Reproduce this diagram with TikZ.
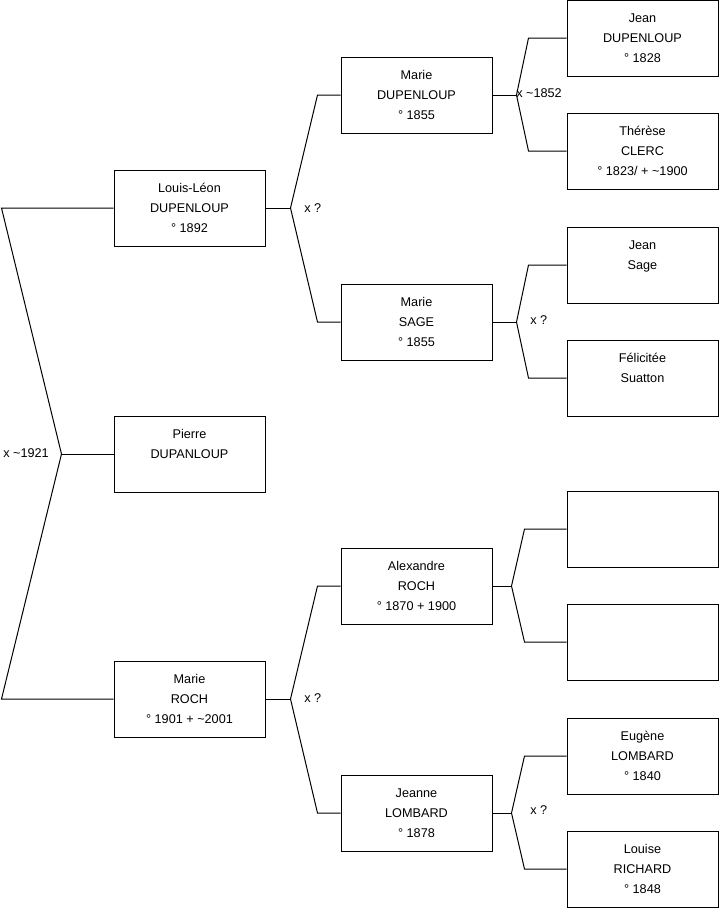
\documentclass[tikz,border=0pt]{standalone}
\usepackage{fontspec}
\setmainfont{Liberation Sans}
\usetikzlibrary{positioning,calc}

\begin{document}
\begin{tikzpicture}[
      x=0.75pt, y=-0.75pt,
      person/.style={draw, line width=0.75pt, minimum width=113.25pt, minimum height=57pt,
        align=center, inner sep=0pt, font=\fontsize{9.5}{15}\selectfont},
      link/.style={line width=0.75pt},
      union/.style={anchor=west, inner sep=0pt, font=\fontsize{9.5}{11}\selectfont}
    ]
      \useasboundingbox (0,0) rectangle (719,908);
      % generation 1
      \node[person] (louis) at (189.5,208) {Louis-Léon\\DUPENLOUP\\° 1892};
      \node[person] (pierre) at (189.5,454) {Pierre\\DUPANLOUP\\ };
      \node[person] (mroch) at (189.5,699) {Marie\\ROCH\\° 1901 + \textasciitilde2001};
      % generation 2
      \node[person] (mdup) at (416.5,95) {Marie\\DUPENLOUP\\° 1855};
      \node[person] (msage) at (416.5,322) {Marie\\SAGE\\° 1855};
      \node[person] (aroch) at (416.5,586) {Alexandre\\ROCH\\° 1870 + 1900};
      \node[person] (jlomb) at (416.5,813) {Jeanne\\LOMBARD\\° 1878};
      % generation 3
      \node[person] (jdup) at (642.5,38) {Jean\\DUPENLOUP\\° 1828};
      \node[person] (tclerc) at (642.5,151) {Thérèse\\CLERC\\° 1823/ + \textasciitilde1900};
      \node[person] (jsage) at (642.5,265) {Jean\\Sage\\ };
      \node[person] (fsuat) at (642.5,378) {Félicitée\\Suatton\\ };
      \node[person] (unk1) at (642.5,529) {};
      \node[person] (unk2) at (642.5,642) {};
      \node[person] (elomb) at (642.5,756) {Eugène\\LOMBARD\\° 1840};
      \node[person] (lrich) at (642.5,869) {Louise\\RICHARD\\° 1848};

      % left bracket
      \coordinate (jroot) at ($(pierre.west)+(-52,0)$);
      \draw[link] (louis.west) -- ++(-112,0) -- (jroot) -- ($(mroch.west)+(-112,0)$) -- (mroch.west);
      \draw[link] (jroot) -- (pierre.west);
      \node[union] (u1) at (3,453) {x \textasciitilde1921};

      % unions of generation 2
      \coordinate (jlouis) at ($(louis.east)+(25,0)$);
      \draw[link] (louis.east) -- (jlouis);
      \draw[link] (mdup.west) -- ++(-23,0) -- (jlouis) -- ($(msage.west)+(-23,0)$) -- (msage.west);
      \node[union] (u2) at (304,208) {x ?};

      \coordinate (jmroch) at ($(mroch.east)+(25,0)$);
      \draw[link] (mroch.east) -- (jmroch);
      \draw[link] (aroch.west) -- ++(-23,0) -- (jmroch) -- ($(jlomb.west)+(-23,0)$) -- (jlomb.west);
      \node[union] (u3) at (304,698) {x ?};

      % unions of generation 3
      \coordinate (jmdup) at ($(mdup.east)+(24,0)$);
      \draw[link] (mdup.east) -- (jmdup);
      \draw[link] (jdup.west) -- ++(-38,0) -- (jmdup) -- ($(tclerc.west)+(-38,0)$) -- (tclerc.west);
      \node[union] (u4) at (516,93) {x \textasciitilde1852};

      \coordinate (jmsage) at ($(msage.east)+(24,0)$);
      \draw[link] (msage.east) -- (jmsage);
      \draw[link] (jsage.west) -- ++(-38,0) -- (jmsage) -- ($(fsuat.west)+(-38,0)$) -- (fsuat.west);
      \node[union] (u5) at (530,320) {x ?};

      \coordinate (jaroch) at ($(aroch.east)+(19,0)$);
      \draw[link] (aroch.east) -- (jaroch);
      \draw[link] (unk1.west) -- ++(-42,0) -- (jaroch) -- ($(unk2.west)+(-42,0)$) -- (unk2.west);

      \coordinate (jjlomb) at ($(jlomb.east)+(19,0)$);
      \draw[link] (jlomb.east) -- (jjlomb);
      \draw[link] (elomb.west) -- ++(-42,0) -- (jjlomb) -- ($(lrich.west)+(-42,0)$) -- (lrich.west);
      \node[union] (u6) at (530,810) {x ?};
    \end{tikzpicture}
\end{document}
